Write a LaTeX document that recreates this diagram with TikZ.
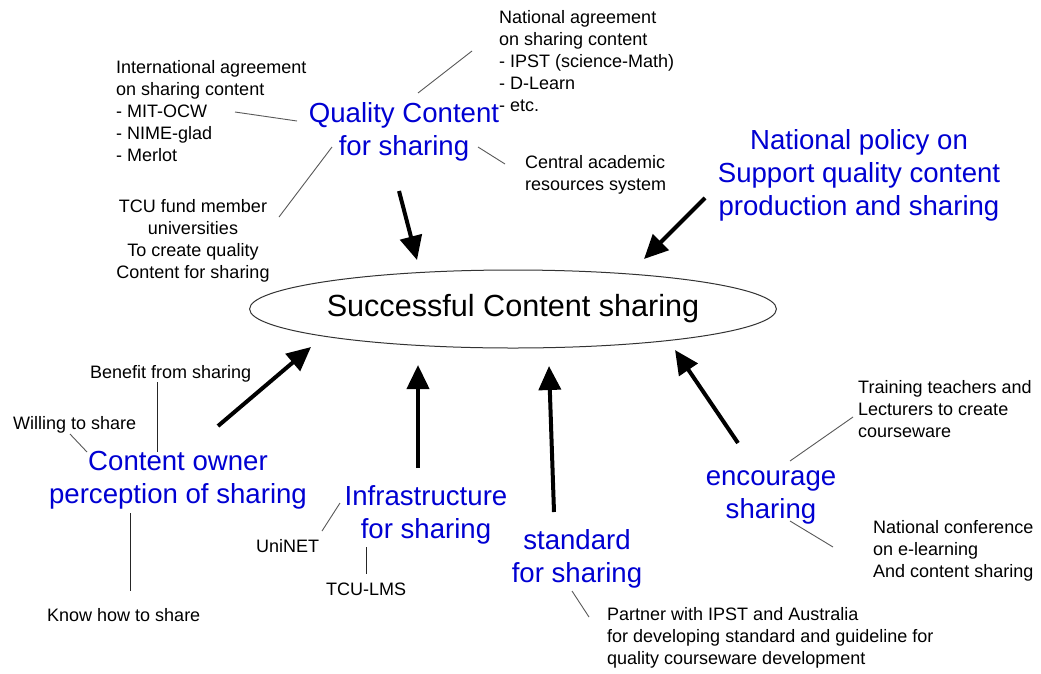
\documentclass[tikz,border=0pt]{standalone}
\usepackage{fontspec}
\setmainfont{Liberation Sans}
\usetikzlibrary{arrows.meta,shapes.geometric}
\definecolor{topicblue}{RGB}{0,0,210}
\newcommand{\smalltxt}{\fontsize{18}{22}\selectfont}
\newcommand{\bluetxt}{\fontsize{27.6}{33}\selectfont\color{topicblue}}
\tikzset{
  note/.style={anchor=base west,inner sep=0pt,font=\smalltxt},
  notec/.style={anchor=base,inner sep=0pt,font=\smalltxt},
  topic/.style={anchor=base,inner sep=0pt,font=\bluetxt},
  link/.style={draw=black!65,line width=0.9pt},
  vlink/.style={draw=black!85,line width=0.9pt},
  bigarrow/.style={line width=4pt,-{Triangle[length=24pt,width=22pt]}},
  goal/.style={ellipse,draw=black!80,line width=1pt,minimum width=453pt,minimum height=78pt,inner sep=0pt,font=\fontsize{30.6}{36}\selectfont}
}
\newcommand{\lft}[1]{\begin{tabular}[t]{@{}l@{}}#1\end{tabular}}
\newcommand{\ctr}[1]{\begin{tabular}[t]{@{}c@{}}#1\end{tabular}}
\begin{document}
\begin{tikzpicture}[x=1pt,y=-1pt]
\fill[white] (0,0) rectangle (1041,673);
\useasboundingbox (0,0) rectangle (1041,673);

% central goal
\node[goal] (goal) at (513,309) {Successful Content sharing};

% blue topics
\node[topic] (qc) at (404,122) {\ctr{Quality Content\\for sharing}};
\node[topic] (np) at (859,149) {\ctr{National policy on\\Support quality content\\production and sharing}};
\node[topic] (co) at (178,470) {\ctr{Content owner\\perception of sharing}};
\node[topic] (inf) at (426,505) {\ctr{Infrastructure\\for sharing}};
\node[topic] (std) at (577,549) {\ctr{standard\\for sharing}};
\node[topic] (enc) at (771,485) {\ctr{encourage\\sharing}};

% small notes
\node[note] (nat) at (499,23) {\lft{National agreement\\on sharing content\\- IPST (science-Math)\\- D-Learn\\- etc.}};
\node[note] (intl) at (116,73) {\lft{International agreement\\on sharing content\\- MIT-OCW\\- NIME-glad\\- Merlot}};
\node[note] (cen) at (525,168) {\lft{Central academic\\resources system}};
\node[notec] (tcu) at (193,212) {\ctr{TCU fund member\\universities\\To create quality\\Content for sharing}};
\node[note] (ben) at (90,378) {Benefit from sharing};
\node[note] (wil) at (13,429) {Willing to share};
\node[note] (know) at (47,621) {Know how to share};
\node[note] (uni) at (256,552) {UniNET};
\node[note] (lms) at (326,595) {TCU-LMS};
\node[note] (part) at (607,620) {\lft{Partner with IPST and Australia\\for developing standard and guideline for\\quality courseware development}};
\node[note] (trn) at (858,393) {\lft{Training teachers and\\Lecturers to create\\courseware}};
\node[note] (conf) at (873,533) {\lft{National conference\\on e-learning\\And content sharing}};

% connector end points
\coordinate (c1a) at (418,93);  \coordinate (c1b) at (472,51);
\coordinate (c2a) at (235,112); \coordinate (c2b) at (297,121);
\coordinate (c3a) at (279,217); \coordinate (c3b) at (332,147);
\coordinate (c4a) at (478,147); \coordinate (c4b) at (505,164);
\coordinate (c5a) at (157,382); \coordinate (c5b) at (157,452);
\coordinate (c6a) at (70,434);  \coordinate (c6b) at (87,452);
\coordinate (c7a) at (130,513); \coordinate (c7b) at (130,591);
\coordinate (c8a) at (322,531); \coordinate (c8b) at (340,503);
\coordinate (c9a) at (366,547); \coordinate (c9b) at (366,574);
\coordinate (c10a) at (572,591); \coordinate (c10b) at (589,617);
\coordinate (c11a) at (790,461); \coordinate (c11b) at (853,417);
\coordinate (c12a) at (790,521); \coordinate (c12b) at (833,547);

\draw[link] (c1a) -- (c1b);
\draw[link] (c2a) -- (c2b);
\draw[link] (c3a) -- (c3b);
\draw[link] (c4a) -- (c4b);
\draw[vlink] (c5a) -- (c5b);
\draw[link] (c6a) -- (c6b);
\draw[vlink] (c7a) -- (c7b);
\draw[link] (c8a) -- (c8b);
\draw[vlink] (c9a) -- (c9b);
\draw[link] (c10a) -- (c10b);
\draw[link] (c11a) -- (c11b);
\draw[link] (c12a) -- (c12b);

% big arrows
\coordinate (aqs) at (399,191); \coordinate (aqt) at (417,260);
\coordinate (ans) at (705,198); \coordinate (ant) at (644,259);
\coordinate (acs) at (218,426); \coordinate (act) at (311,347);
\coordinate (ais) at (418,468); \coordinate (ait) at (418,365);
\coordinate (ass) at (554,512); \coordinate (ast) at (549,366);
\coordinate (aes) at (738,443); \coordinate (aet) at (675,350);
\draw[bigarrow] (aqs) -- (aqt);
\draw[bigarrow] (ans) -- (ant);
\draw[bigarrow] (acs) -- (act);
\draw[bigarrow] (ais) -- (ait);
\draw[bigarrow] (ass) -- (ast);
\draw[bigarrow] (aes) -- (aet);
\end{tikzpicture}
\end{document}
